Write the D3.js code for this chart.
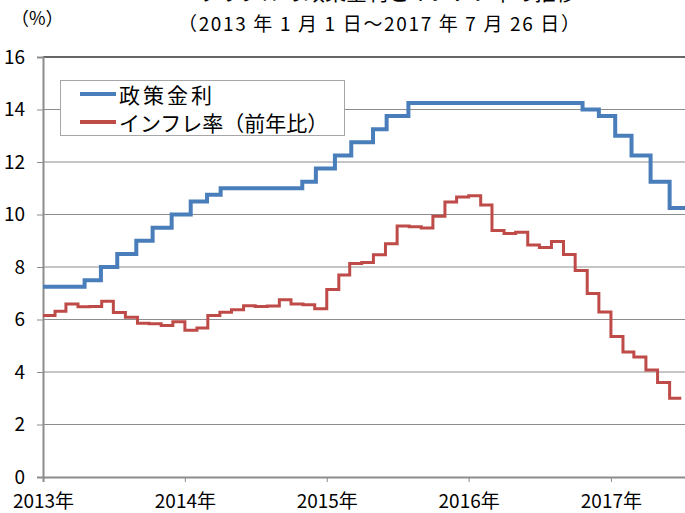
<!DOCTYPE html>
<html>
<head>
<meta charset="utf-8">
<script src="https://cdn.jsdelivr.net/npm/d3@7/dist/d3.min.js"></script>
<style>
  body { margin: 0; background: #fff; }
  svg { display: block; font-family: "Noto Sans CJK JP", "Noto Sans", sans-serif; }
</style>
</head>
<body>
<svg id="chart" width="685" height="513"></svg>
<script>
// policy rate: date of change -> new rate (%)
const policyDates = ["2013-01-01","2013-04-18","2013-05-30","2013-07-11","2013-08-29","2013-10-10",
  "2013-11-28","2014-01-16","2014-02-27","2014-04-03","2014-10-30","2014-12-04","2015-01-22",
  "2015-03-05","2015-04-30","2015-06-04","2015-07-30","2016-10-20","2016-12-01","2017-01-12",
  "2017-02-23","2017-04-13","2017-06-01"];
const policyRates = [7.25,7.5,8,8.5,9,9.5,10,10.5,10.75,11,11.25,11.75,12.25,12.75,13.25,13.75,
  14.25,14,13.75,13,12.25,11.25,10.25];
const policyEnd = "2017-07-26";

// inflation, y/y, monthly from Jan 2013
const inflStart = "2013-01-01";
const inflation = [
  6.15,6.31,6.59,6.49,6.50,6.70,6.27,6.09,5.86,5.84,5.77,5.91,
  5.59,5.68,6.15,6.28,6.37,6.52,6.50,6.51,6.75,6.59,6.56,6.41,
  7.14,7.70,8.13,8.17,8.47,8.89,9.56,9.53,9.49,9.93,10.48,10.67,
  10.71,10.36,9.39,9.28,9.32,8.84,8.74,8.97,8.48,7.87,6.99,6.29,
  5.35,4.76,4.57,4.08,3.60,3.00];

const yTicks = [0,2,4,6,8,10,12,14,16];
const seriesNames = ["政策金利", "インフレ率（前年比）"];
const seriesColors = ["#4a7ebb", "#be4b48"];

const parse = d3.utcParse("%Y-%m-%d");
const svg = d3.select("#chart");

const x = d3.scaleUtc().domain([parse("2013-01-01"), parse(policyEnd)]).range([43, 691]);
const y = d3.scaleLinear().domain([0, 16]).range([477, 57]);

// step series
const policyPts = policyDates.map((d, i) => [parse(d), policyRates[i]]);
policyPts.push([parse(policyEnd), policyRates[policyRates.length - 1]]);

const inflPts = inflation.map((v, i) => [d3.utcMonth.offset(parse(inflStart), i), v]);
inflPts.push([d3.utcMonth.offset(parse(inflStart), inflation.length), inflation[inflation.length - 1]]);

// titles (main title is cut off at the top edge, as in the source image)
svg.append("text").attr("x", 388).attr("y", -0.5).attr("text-anchor", "middle")
  .attr("font-size", 21).text("ブラジルの政策金利とインフレ率の推移");
svg.append("text").attr("x", 379).attr("y", 22).attr("dominant-baseline", "central")
  .attr("text-anchor", "middle").attr("font-size", 19)
  .attr("textLength", 402).attr("lengthAdjust", "spacing")
  .text("（2013 年 1 月 1 日～2017 年 7 月 26 日）");
svg.append("text").attr("x", 11).attr("y", 17).attr("dominant-baseline", "central")
  .attr("font-size", 18).text("（%）");

// grid
svg.append("g").selectAll("line").data(yTicks.filter(d => d > 0)).join("line")
  .attr("x1", 43).attr("x2", 685)
  .attr("y1", d => y(d)).attr("y2", d => y(d))
  .attr("stroke", d => d === 16 ? "#333" : "#8c8c8c")
  .attr("stroke-width", d => d === 16 ? 1.5 : 1);

// y axis
const yAxis = svg.append("g").attr("transform", "translate(43,0)")
  .call(d3.axisLeft(y).tickValues(yTicks).tickSize(6).tickPadding(12));
yAxis.select(".domain").attr("stroke", "#8c8c8c").attr("stroke-width", 2);
yAxis.selectAll(".tick line").attr("stroke", "#8c8c8c");
yAxis.selectAll("text").attr("font-size", 19).attr("fill", "#000")
  .attr("font-family", "Noto Sans CJK JP");

// x axis
const xAxis = svg.append("g").attr("transform", "translate(0,477)")
  .call(d3.axisBottom(x).ticks(d3.utcYear.every(1)).tickSize(5)
    .tickFormat(d => d.getUTCFullYear() + "年"));
xAxis.select(".domain").attr("stroke", "#8c8c8c").attr("stroke-width", 2);
xAxis.selectAll(".tick line").attr("stroke", "#8c8c8c");
xAxis.selectAll("text").attr("font-size", 19).attr("fill", "#000")
  .attr("font-family", "Noto Sans CJK JP").attr("y", 31).attr("dy", 0);

// lines
const line = d3.line().x(d => x(d[0])).y(d => y(d[1])).curve(d3.curveStepAfter);
svg.append("path").datum(inflPts).attr("d", line)
  .attr("fill", "none").attr("stroke", seriesColors[1]).attr("stroke-width", 3);
svg.append("path").datum(policyPts).attr("d", line)
  .attr("fill", "none").attr("stroke", seriesColors[0]).attr("stroke-width", 4);

// legend
const lg = svg.append("g");
lg.append("rect").attr("x", 60.5).attr("y", 80.5).attr("width", 284).attr("height", 55)
  .attr("fill", "#fff").attr("stroke", "#a6a6a6");
seriesNames.forEach((name, i) => {
  const ly = 94 + i * 28;
  lg.append("line").attr("x1", 80).attr("x2", 116).attr("y1", ly).attr("y2", ly)
    .attr("stroke", seriesColors[i]).attr("stroke-width", 4);
  lg.append("text").attr("x", 119).attr("y", ly).attr("dominant-baseline", "central")
    .attr("font-size", 21).attr("letter-spacing", i === 0 ? 3 : 0).text(name);
});
</script>
</body>
</html>
